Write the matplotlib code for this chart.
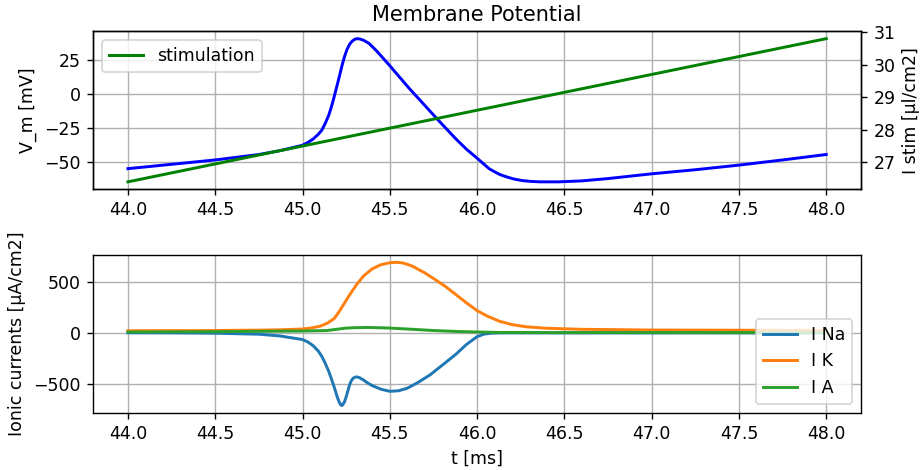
import matplotlib
matplotlib.use("Agg")
import matplotlib.pyplot as plt
import matplotlib.ticker as mticker

# --- membrane potential ---
t_vm = [44.0, 44.25, 44.5, 44.75, 44.87, 45.0, 45.03, 45.06, 45.09, 45.11,
        45.13, 45.15, 45.165, 45.18, 45.195, 45.21, 45.225, 45.24, 45.255, 45.27,
        45.285, 45.3, 45.315, 45.33, 45.35, 45.38, 45.42, 45.5, 45.61, 45.77,
        45.88, 45.94, 46.0, 46.04, 46.07, 46.1, 46.13, 46.17, 46.21, 46.26,
        46.31, 46.36, 46.47, 46.6, 46.75, 47.0, 47.25, 47.5, 47.75, 48.0]
v_m = [-55.2, -52.0, -48.8, -44.8, -42.0, -38.0, -36.0, -33.5, -30.0, -27.0,
       -22.0, -16.0, -10.0, -3.0, 4.5, 12.0, 20.0, 27.0, 32.5, 36.3,
       38.6, 40.0, 40.4, 40.1, 39.2, 37.0, 32.0, 20.5, 4.0, -18.5,
       -33.5, -41.0, -47.5, -52.0, -55.3, -57.5, -59.5, -61.3, -62.8, -64.0,
       -64.6, -64.9, -64.9, -64.2, -62.5, -59.0, -56.0, -52.6, -48.8, -44.8]

# --- stimulation current ---
t_stim = [44.0, 44.5, 45.0, 45.5, 46.0, 46.5, 47.0, 47.5, 48.0]
i_stim = [26.4, 26.95, 27.5, 28.05, 28.6, 29.15, 29.7, 30.25, 30.8]

# --- ionic currents ---
t_na = [44.0, 44.25, 44.5, 44.75, 44.87, 45.0, 45.03, 45.06, 45.09, 45.11,
        45.13, 45.15, 45.165, 45.18, 45.19, 45.2, 45.21, 45.22, 45.225, 45.23,
        45.24, 45.25, 45.26, 45.27, 45.28, 45.29, 45.3, 45.31, 45.325, 45.35,
        45.37, 45.4, 45.45, 45.5, 45.55, 45.6, 45.66, 45.73, 45.8, 45.88,
        45.94, 46.0, 46.04, 46.08, 46.13, 46.3, 47.0, 48.0]
i_na = [-2, -3, -6, -16, -33, -68, -92, -127, -180, -231,
        -300, -379, -450, -526, -580, -635, -680, -710, -714, -708,
        -680, -630, -570, -510, -470, -447, -437, -434, -440, -465,
        -490, -520, -555, -575, -570, -545, -490, -415, -320, -210,
        -115, -40, -15, -6, -3, -3, -3, -3]

t_k = [44.0, 44.5, 44.75, 44.87, 45.0, 45.05, 45.1, 45.14, 45.18, 45.2,
       45.23, 45.27, 45.31, 45.35, 45.4, 45.45, 45.5, 45.54, 45.58, 45.63,
       45.7, 45.75, 45.82, 45.88, 45.94, 46.0, 46.06, 46.13, 46.2, 46.28,
       46.4, 46.6, 47.0, 48.0]
i_k = [18, 20, 24, 27, 35, 45, 62, 90, 135, 180,
       260, 370, 470, 555, 625, 665, 684, 688, 680, 650,
       585, 530, 450, 370, 290, 215, 160, 110, 78, 57,
       42, 32, 25, 21]

t_a = [44.0, 44.5, 45.0, 45.14, 45.2, 45.25, 45.3, 45.37, 45.45, 45.5,
       45.6, 45.75, 45.9, 46.0, 46.13, 46.5, 48.0]
i_a = [5, 9, 15, 20, 33, 44, 48, 50, 47, 44,
       35, 20, 10, 6, 1, 0, 0]

fig, (ax1, ax3) = plt.subplots(2, 1, figsize=(7.368, 3.76), dpi=125)

ax1.plot(t_vm, v_m, color="b", lw=1.7)
ax1.set_ylabel("V_m [mV]")
ax1.set_title("Membrane Potential")
ax1.yaxis.set_major_locator(mticker.MultipleLocator(25))
ax1.grid(True)

ax2 = ax1.twinx()
ax2.plot(t_stim, i_stim, color="g", lw=1.7, label="stimulation")
ax2.set_ylabel("I stim [µl/cm2]")
ax2.yaxis.set_major_locator(mticker.MultipleLocator(1))
ax2.legend(loc="upper left")

ax3.plot(t_na, i_na, lw=1.7, label="I Na")
ax3.plot(t_k, i_k, lw=1.7, label="I K")
ax3.plot(t_a, i_a, lw=1.7, label="I A")
ax3.set_xlabel("t [ms]")
ax3.set_ylabel("Ionic currents [µA/cm2]")
ax3.grid(True)
ax3.legend(loc="lower right")

fig.subplots_adjust(left=0.101, right=0.935, top=0.933, bottom=0.122, hspace=0.42)
fig.savefig("out.png", dpi=125)
